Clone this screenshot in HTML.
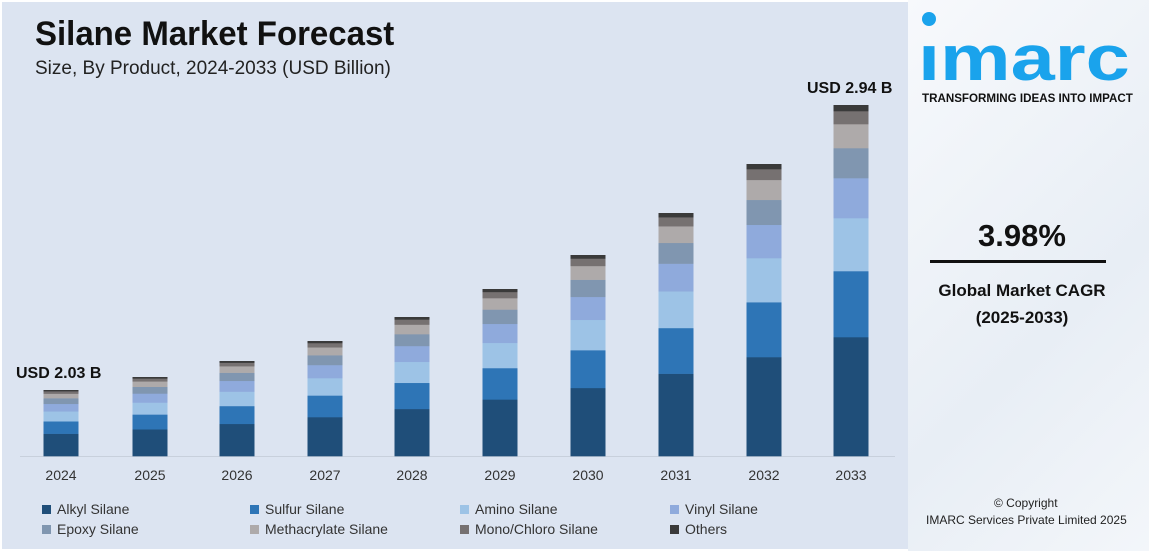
<!DOCTYPE html>
<html><head><meta charset="utf-8"><style>
body{margin:0;width:1149px;height:551px;overflow:hidden;background:#fff;font-family:"Liberation Sans",sans-serif;position:relative}
#left{position:absolute;left:2px;top:2px;width:906px;height:547px;background:#dce4f1}
#right{position:absolute;left:908px;top:0;width:241px;height:551px;background:linear-gradient(135deg,#f7f9fc,#e8eef5 60%,#f3f6fa)}
.t{position:absolute;white-space:nowrap}
.leg{position:absolute;font-size:14px;color:#333}
.leg i{display:inline-block;width:9px;height:9px;margin-right:6px;vertical-align:0px}
</style></head><body>
<div id="left"></div>
<div id="right"></div>
<div class="t" style="left:35px;top:15px;font-size:34px;font-weight:bold;color:#111;transform:scaleX(0.97);transform-origin:left">Silane Market Forecast</div>
<div class="t" style="left:35px;top:58px;font-size:19px;color:#222">Size, By Product, 2024-2033 (USD Billion)</div>
<svg id="s" width="1149" height="551" style="position:absolute;left:0;top:0">
<line x1="20" y1="456.5" x2="895" y2="456.5" stroke="#c8d0dc"/>
</svg>
<div class="t" style="left:16px;top:365px;font-size:16px;font-weight:bold;color:#111">USD 2.03 B</div>
<div class="t" style="left:807px;top:80px;font-size:16px;font-weight:bold;color:#111">USD 2.94 B</div>
<div class="t" style="left:922px;top:12px;width:14px;height:14px;border-radius:50%;background:#1aa3ec"></div>
<div class="t" style="left:918px;top:23px;font-size:64px;font-weight:bold;color:#1aa3ec;line-height:70px;transform:scaleX(1.24);transform-origin:left">ımarc</div>
<div class="t" style="left:922px;top:92px;font-size:11.6px;font-weight:bold;color:#111">TRANSFORMING IDEAS INTO IMPACT</div>
<div class="t" style="left:978px;top:218px;font-size:31px;font-weight:bold;color:#111">3.98%</div>
<div class="t" style="left:930px;top:260px;width:176px;height:3px;background:#111"></div>
<div class="t" style="left:928px;top:277px;width:188px;text-align:center;font-size:17px;font-weight:bold;color:#111;line-height:27px">Global Market CAGR<br>(2025-2033)</div>
<div class="t" style="left:994px;top:496px;font-size:12px;color:#222">© Copyright</div>
<div class="t" style="left:926px;top:513px;font-size:12px;color:#222">IMARC Services Private Limited 2025</div>
<div class="leg" style="left:42px;top:501px"><i style="background:#1f4e79"></i>Alkyl Silane</div>
<div class="leg" style="left:250px;top:501px"><i style="background:#2e75b6"></i>Sulfur Silane</div>
<div class="leg" style="left:460px;top:501px"><i style="background:#9dc3e6"></i>Amino Silane</div>
<div class="leg" style="left:670px;top:501px"><i style="background:#8faadc"></i>Vinyl Silane</div>
<div class="leg" style="left:42px;top:521px"><i style="background:#8096b0"></i>Epoxy Silane</div>
<div class="leg" style="left:250px;top:521px"><i style="background:#aeaaaa"></i>Methacrylate Silane</div>
<div class="leg" style="left:460px;top:521px"><i style="background:#767171"></i>Mono/Chloro Silane</div>
<div class="leg" style="left:670px;top:521px"><i style="background:#3a3a3a"></i>Others</div>
<script>
var s=document.getElementById('s'),ns='http://www.w3.org/2000/svg';
var cols=['#1f4e79','#2e75b6','#9dc3e6','#8faadc','#8096b0','#aeaaaa','#767171','#3a3a3a'];
var p=[119,66,53,40,30,24,13,6];
var cx=[61,150,237,325,412,500,588,676,764,851],tops=[390,377,361,341,317,289,255,213,164,105];
var yrs=[2024,2025,2026,2027,2028,2029,2030,2031,2032,2033];
for(var b=0;b<10;b++){var H=456-tops[b],y=456;
for(var k=0;k<8;k++){var h=H*p[k]/351;var r=document.createElementNS(ns,'rect');
r.setAttribute('x',cx[b]-17.5);r.setAttribute('width',35);r.setAttribute('y',y-h);r.setAttribute('height',h+0.3);r.setAttribute('fill',cols[k]);s.appendChild(r);y-=h;}
var t=document.createElementNS(ns,'text');t.setAttribute('x',cx[b]);t.setAttribute('y',480);t.setAttribute('text-anchor','middle');t.setAttribute('font-size','14');t.setAttribute('fill','#333');t.setAttribute('font-family','Liberation Sans, sans-serif');t.textContent=yrs[b];s.appendChild(t);}
</script>
</body></html>
